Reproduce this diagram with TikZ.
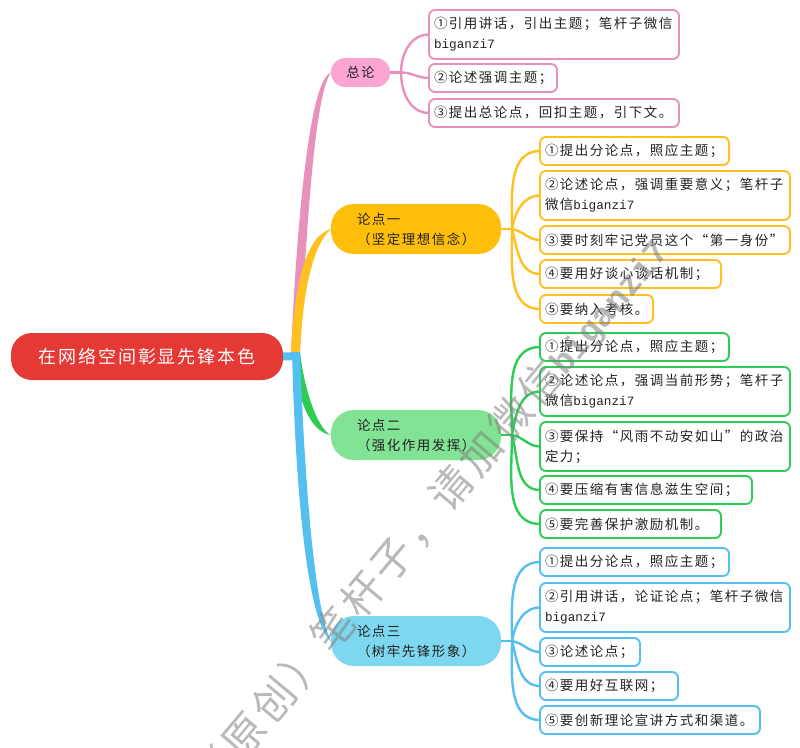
\documentclass[tikz,border=0pt]{standalone}
\usepackage{fontspec}
\setmainfont{Liberation Sans}
\newfontfamily\cjk[LetterSpace=11]{Noto Sans CJK SC}
\newfontfamily\markfont[LetterSpace=9.5]{Noto Sans CJK SC}
\newfontfamily\lat{Liberation Mono}
\usetikzlibrary{calc}
\definecolor{pinkline}{HTML}{E991BD}
\definecolor{pinkfill}{HTML}{FAA5D2}
\definecolor{yellowline}{HTML}{FFC020}
\definecolor{yellowfill}{HTML}{FFBE0A}
\definecolor{greenline}{HTML}{2ECC55}
\definecolor{greenfill}{HTML}{83E394}
\definecolor{blueline}{HTML}{55BFF0}
\definecolor{bluefill}{HTML}{7DD7EE}
\definecolor{rootfill}{HTML}{E53935}
\definecolor{inktext}{HTML}{222222}
\begin{document}
\begin{tikzpicture}
	[x=1pt,y=-1pt,
	leaf/.style={draw,rounded corners=6pt,line width=1.9pt,outer sep=0pt,anchor=north west,inner xsep=5pt,inner ysep=0pt,align=left,text=inktext,font=\fontsize{13.5}{20}\selectfont\cjk},
	pill/.style={rounded corners=23pt,outer sep=0pt,anchor=north west,inner xsep=26pt,inner ysep=0pt,minimum height=50pt,text width=118pt,align=left,text=inktext,font=\fontsize{13.5}{20}\selectfont\cjk},
	branch/.style={-,line width=2.4pt},
	stub/.style={line width=2.8pt}]
	\useasboundingbox (0,0) rectangle (800,747);

	\node[rounded corners=21pt,fill=rootfill,text=white!92!pink,minimum width=272pt,minimum height=47pt,inner sep=0pt,outer sep=0pt,font=\fontsize{18}{20}\selectfont\cjk] (root) at (147,356.5) {在网络空间彰显先锋本色};

	\node[pill,fill=pinkfill,rounded corners=14pt,inner xsep=0pt,minimum height=29pt,text width=59pt,align=center] (zong) at (331,58) {总论};
	\node[pill,fill=yellowfill] (one) at (331,204) {论点一\\（坚定理想信念）};
	\node[pill,fill=greenfill] (two) at (331,410) {论点二\\（强化作用发挥）};
	\node[pill,fill=bluefill] (three) at (331,616) {论点三\\（树牢先锋形象）};

	\node[leaf,draw=pinkline,text width=240pt,minimum height=49pt] (p1) at (429,10) {①引用讲话，引出主题；笔杆子微信\\{\lat\fontsize{12.7}{20}\selectfont biganzi7}};
	\node[leaf,draw=pinkline,text width=118pt,minimum height=28pt] (p2) at (429,64) {②论述强调主题；};
	\node[leaf,draw=pinkline,text width=240pt,minimum height=28pt] (p3) at (429,99) {③提出总论点，回扣主题，引下文。};

	\node[leaf,draw=yellowline,text width=179pt,minimum height=28pt] (y1) at (540,137) {①提出分论点，照应主题；};
	\node[leaf,draw=yellowline,text width=240pt,minimum height=49pt] (y2) at (540,171) {②论述论点，强调重要意义；笔杆子\\微信{\lat\fontsize{12.7}{20}\selectfont biganzi7}};
	\node[leaf,draw=yellowline,text width=240pt,minimum height=28pt] (y3) at (540,226) {③要时刻牢记党员这个“第一身份”};
	\node[leaf,draw=yellowline,text width=171pt,minimum height=28pt] (y4) at (540,260) {④要用好谈心谈话机制；};
	\node[leaf,draw=yellowline,text width=103pt,minimum height=28pt] (y5) at (540,295) {⑤要纳入考核。};

	\node[leaf,draw=greenline,text width=179pt,minimum height=28pt] (g1) at (540,333) {①提出分论点，照应主题；};
	\node[leaf,draw=greenline,text width=240pt,minimum height=49pt] (g2) at (540,367) {②论述论点，强调当前形势；笔杆子\\微信{\lat\fontsize{12.7}{20}\selectfont biganzi7}};
	\node[leaf,draw=greenline,text width=240pt,minimum height=49pt] (g3) at (540,422) {③要保持“风雨不动安如山”的政治\\定力；};
	\node[leaf,draw=greenline,text width=202pt,minimum height=28pt] (g4) at (540,476) {④要压缩有害信息滋生空间；};
	\node[leaf,draw=greenline,text width=171pt,minimum height=28pt] (g5) at (540,510) {⑤要完善保护激励机制。};

	\node[leaf,draw=blueline,text width=179pt,minimum height=28pt] (b1) at (540,548) {①提出分论点，照应主题；};
	\node[leaf,draw=blueline,text width=240pt,minimum height=49pt] (b2) at (540,583) {②引用讲话，论证论点；笔杆子微信\\{\lat\fontsize{12.7}{20}\selectfont biganzi7}};
	\node[leaf,draw=blueline,text width=90pt,minimum height=28pt] (b3) at (540,638) {③论述论点；};
	\node[leaf,draw=blueline,text width=128pt,minimum height=28pt] (b4) at (540,672) {④要用好互联网；};
	\node[leaf,draw=blueline,text width=210pt,minimum height=28pt] (b5) at (540,706) {⑤要创新理论宣讲方式和渠道。};

	\coordinate (zongHub) at (401,72.5);
	\coordinate (oneHub) at (512,229);
	\coordinate (twoHub) at (512,435);
	\coordinate (threeHub) at (512,641);

	\fill[pinkline] (291,352) .. controls (296,240) and (308,80) .. (zong.west) .. controls (314,95) and (306,240) .. (300,352) -- cycle;
	\fill[yellowline] (291,352) .. controls (294,290) and (305,235) .. (one.west) .. controls (313,245) and (303,290) .. (300,352) -- cycle;
	\fill[greenline] (293,352) .. controls (297,400) and (310,432) .. (two.west) .. controls (319,430) and (305,395) .. (300,352) -- cycle;
	\fill[blueline] (292,352) .. controls (295,470) and (305,620) .. (three.west) .. controls (314,610) and (304,470) .. (300,352) -- cycle;
	\draw[blueline,line width=8pt] (root.east) -- (298,356);

	\draw[stub,pinkline] (zong.east) -- (zongHub);
	\draw[stub,yellowline] (one.east) -- (oneHub);
	\draw[stub,greenline] (two.east) -- (twoHub);
	\draw[stub,blueline] (three.east) -- (threeHub);
	\path
	\foreach \endNode/\outAngle in {p1/90,p2/0,p3/-90}
	{
		(zongHub) edge[branch,pinkline,out=\outAngle,in=180] (\endNode.west)
	};
	\path
	\foreach \endNode/\outAngle in {y1/90,y2/80,y3/-10,y4/-75,y5/-90}
	{
		(oneHub) edge[branch,yellowline,out=\outAngle,in=180] (\endNode.west)
	};
	\path
	\foreach \endNode/\outAngle in {g1/90,g2/80,g3/-10,g4/-75,g5/-90}
	{
		(twoHub) edge[branch,greenline,out=\outAngle,in=180] (\endNode.west)
	};
	\path
	\foreach \endNode/\outAngle in {b1/90,b2/80,b3/-10,b4/-75,b5/-90}
	{
		(threeHub) edge[branch,blueline,out=\outAngle,in=180] (\endNode.west)
	};

	\node[rotate=50,text=gray,opacity=.55,inner sep=0pt,font=\fontsize{42}{46}\selectfont\markfont] (stamp) at (431,515) {（原创）笔杆子，请加微信{\lat\bfseries\fontsize{34}{46}\selectfont biganzi7}};
\end{tikzpicture}
\end{document}
